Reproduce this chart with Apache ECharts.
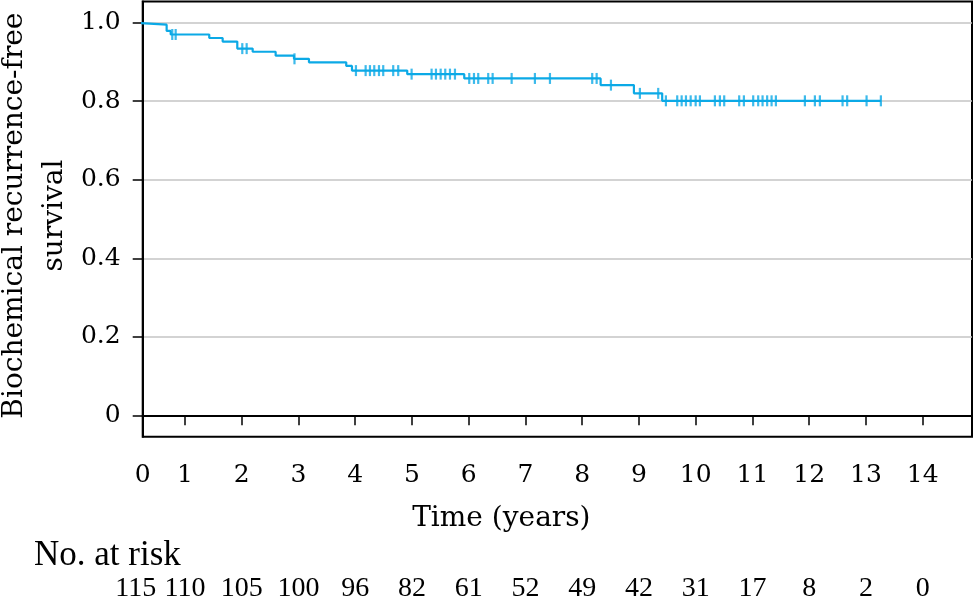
<!DOCTYPE html>
<html>
<head>
<meta charset="utf-8">
<script src="https://cdn.jsdelivr.net/npm/echarts@6/dist/echarts.min.js"></script>
<style>html,body{margin:0;padding:0;background:#fff}#c{width:976px;height:602px}</style>
</head>
<body>
<div id="c"></div>
<script>
// Kaplan-Meier step curve: event times (years) and survival after each time
const stepTimes = [0, 0.10, 0.677, 0.748, 1.428, 1.664, 1.922, 2.193, 2.598, 2.921, 3.185, 3.842, 3.943, 4.917, 5.922, 8.325, 8.912, 9.410, 13.264];
const stepSurv  = [1.0, 0.995, 0.979, 0.970, 0.961, 0.952, 0.934, 0.926, 0.916, 0.908, 0.899, 0.890, 0.878, 0.869, 0.858, 0.841, 0.820, 0.801, 0.801];
// Censoring times (years)
const censorTimes = [0.776, 0.836, 2.010, 2.087, 2.93, 4.013, 4.184, 4.260, 4.336, 4.419, 4.494, 4.670, 4.758, 4.994,
  5.346, 5.423, 5.506, 5.587, 5.670, 5.758, 6.010, 6.093, 6.168, 6.344, 6.422, 6.757, 7.167, 7.432, 8.177, 8.255,
  8.507, 9.017, 9.340, 9.476, 9.675, 9.753, 9.829, 9.912, 10.0, 10.075, 10.339, 10.427, 10.503, 10.767, 10.850,
  11.014, 11.102, 11.179, 11.260, 11.338, 11.414, 11.925, 12.101, 12.189, 12.589, 12.670, 13.012, 13.264];
// Axis ticks
const xTicks = [0,1,2,3,4,5,6,7,8,9,10,11,12,13,14];
const yTicks = [0, 0.2, 0.4, 0.6, 0.8, 1.0];
// Number at risk at each year
const riskTimes = [0,1,2,3,4,5,6,7,8,9,10,11,12,13,14];
const atRisk = [115,110,105,100,96,82,61,52,49,42,31,17,8,2,0];

const X_MIN = 0.255, X_MAX = 14.87;
const Y_MIN = -0.0545, Y_MAX = 1.054;
const COLOR = '#0ba9e6';
const SERIF = 'DejaVu Serif';

function levelAt(t){
  let s = stepSurv[0];
  for (let i = 0; i < stepTimes.length; i++) { if (stepTimes[i] <= t) s = stepSurv[i]; }
  return s;
}
const curve = stepTimes.map((t,i)=>[t, stepSurv[i]]);
const censors = censorTimes.map(t=>[t, levelAt(t)]);

const labelPos = xTicks.map(v => v === 0 ? X_MIN : v);
const riskPos = riskTimes.map(v => v === 0 ? X_MIN : v);

const chart = echarts.init(document.getElementById('c'), null, {renderer:'canvas'});
chart.setOption({
  animation:false,
  backgroundColor:'#fff',
  title:{ text:'No. at risk', left:29, top:533,
    textStyle:{ fontFamily:'Liberation Serif', fontSize:35, fontWeight:'normal', color:'#000' } },
  grid:[
    { left:142.7, right:4, top:1.5, bottom:165.3, show:true, borderColor:'#000', borderWidth:2,
      backgroundColor:'transparent', containLabel:false, outerBoundsMode:'none' },
    { left:142.7, right:4, top:573, height:2, containLabel:false, outerBoundsMode:'none' }
  ],
  xAxis:[
    { type:'value', gridIndex:0, min:X_MIN, max:X_MAX,
      name:'Time (years)', nameLocation:'middle', nameGap:68,
      nameTextStyle:{ fontFamily:SERIF, fontSize:28, color:'#000', padding:[0,112,0,0] },
      axisLine:{ show:true, lineStyle:{ color:'#000', width:2 } },
      axisTick:{ show:true, customValues: xTicks.filter(v=>v>0), length:10, lineStyle:{ color:'#000', width:1.5 } },
      axisLabel:{ customValues: labelPos, showMinLabel:true, showMaxLabel:true, margin:26,
        fontFamily:SERIF, fontSize:25, color:'#000',
        formatter: v => String(Math.round(v)) },
      splitLine:{ show:false } },
    { type:'value', gridIndex:1, min:X_MIN, max:X_MAX,
      axisLine:{ show:false }, axisTick:{ show:false }, splitLine:{ show:false },
      axisLabel:{ customValues: riskPos, showMinLabel:true, showMaxLabel:true, margin:0,
        fontFamily:'Liberation Serif', fontSize:28, color:'#000',
        formatter: v => { const i = riskPos.indexOf(v); const s = String(atRisk[i]); return i === 0 ? '{f|' + s + '}' : s; },
        rich:{ f:{ fontFamily:'Liberation Serif', fontSize:28, color:'#000', padding:[0,14,0,0] } } } }
  ],
  yAxis:[
    { type:'value', gridIndex:0, min:Y_MIN, max:Y_MAX,
      name:'Biochemical recurrence-free\nsurvival', nameLocation:'middle', nameGap:68, nameRotate:90,
      nameMoveOverlap:false,
      nameTextStyle:{ fontFamily:SERIF, fontSize:28, color:'#000', lineHeight:40, padding:[0,0,0,7] },
      axisLine:{ show:true, lineStyle:{ color:'#000', width:2 } },
      axisTick:{ show:true, customValues: yTicks, length:10, lineStyle:{ color:'#000', width:1.5 } },
      axisLabel:{ customValues: yTicks, margin:22, fontFamily:SERIF, fontSize:25, color:'#000',
        formatter: v => v === 0 ? '0' : v.toFixed(1) },
      splitLine:{ show:true, lineStyle:{ color:'#c4c4c4', width:1.5 } } },
    { type:'value', gridIndex:1, show:false, min:0, max:1 }
  ],
  series:[
    { type:'line', xAxisIndex:0, yAxisIndex:0, data:curve, step:'end', showSymbol:false, symbol:'none',
      clip:true, lineStyle:{ color:COLOR, width:2.2 }, z:3 },
    { type:'scatter', xAxisIndex:0, yAxisIndex:0, data:censors, symbol:'rect', symbolSize:[2.2,11],
      itemStyle:{ color:COLOR }, z:4 },
    { type:'scatter', xAxisIndex:1, yAxisIndex:1, data:[], silent:true }
  ]
});
</script>
</body>
</html>
